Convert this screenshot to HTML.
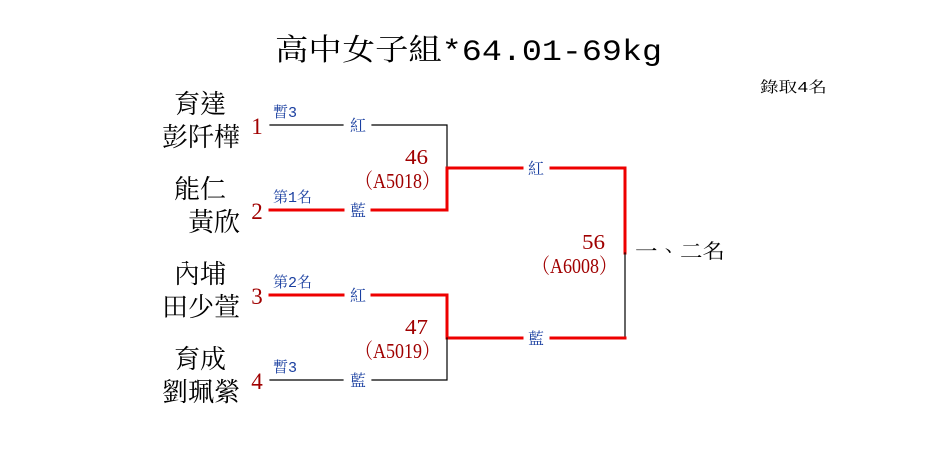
<!DOCTYPE html>
<html><head><meta charset="utf-8"><style>
html,body{margin:0;padding:0;background:#fff;}
svg{display:block;}
text{font-family:"Liberation Mono","Noto Serif CJK TC","Noto Serif CJK SC",serif;}
text.sr{font-family:"Liberation Serif","Noto Serif CJK TC",serif;}
</style></head><body>
<svg width="935" height="465" viewBox="0 0 935 465" xmlns="http://www.w3.org/2000/svg">
<text x="275" y="60" font-size="30" textLength="387" lengthAdjust="spacingAndGlyphs" fill="#000">高中女子組*64.01-69kg</text>
<text x="760" y="92" font-size="15" textLength="67" lengthAdjust="spacingAndGlyphs" fill="#000">錄取4名</text>

<g font-size="26" fill="#000" text-anchor="end">
<text x="226" y="113">育達</text><text x="240" y="146">彭阡樺</text>
<text x="226" y="198">能仁</text><text x="240" y="231">黃欣</text>
<text x="226" y="283">內埔</text><text x="240" y="316">田少萱</text>
<text x="226" y="368">育成</text><text x="240" y="401">劉珮縈</text>
</g>
<g font-size="23" fill="#a00000" text-anchor="middle">
<text class="sr" x="257" y="134">1</text><text class="sr" x="257" y="219">2</text>
<text class="sr" x="257" y="304">3</text><text class="sr" x="257" y="389">4</text>
</g>
<g font-size="15" fill="#1a3fa0">
<text x="273" y="117">暫3</text><text x="273" y="202">第1名</text>
<text x="273" y="287">第2名</text><text x="273" y="372">暫3</text>
</g>

<g fill="none" stroke-linecap="square">
<path d="M270 125H343M372 125H447V168" stroke="#000" stroke-width="1.2"/>
<path d="M270 210H343M372 210H447V168H522M551 168H625V253" stroke="#e00" stroke-width="3"/>
<path d="M625 253V338H551" stroke="#000" stroke-width="1.2"/>
<path d="M270 295H343M372 295H447V338H522" stroke="#e00" stroke-width="3"/>
<path d="M551 338H625" stroke="#e00" stroke-width="3"/>
<path d="M270 380H343M372 380H447V338" stroke="#000" stroke-width="1.2"/>
</g>
<g font-size="16" fill="#1a3fa0" text-anchor="middle">
<text x="358" y="131">紅</text><text x="358" y="216">藍</text>
<text x="358" y="301">紅</text><text x="358" y="386">藍</text>
<text x="536" y="174">紅</text><text x="536" y="344">藍</text>
</g>
<g font-size="21" fill="#a00000">
<text class="sr" x="405" y="164" textLength="23" lengthAdjust="spacingAndGlyphs">46</text>
<text class="sr" x="355" y="188" textLength="85" lengthAdjust="spacingAndGlyphs">（A5018）</text>
<text class="sr" x="405" y="334" textLength="23" lengthAdjust="spacingAndGlyphs">47</text>
<text class="sr" x="355" y="358" textLength="85" lengthAdjust="spacingAndGlyphs">（A5019）</text>
<text class="sr" x="582" y="249" textLength="23" lengthAdjust="spacingAndGlyphs">56</text>
<text class="sr" x="532" y="273" textLength="85" lengthAdjust="spacingAndGlyphs">（A6008）</text>
</g>
<text x="635" y="258" font-size="20" textLength="90" lengthAdjust="spacingAndGlyphs" fill="#000">一、二名</text>
</svg>
</body></html>
